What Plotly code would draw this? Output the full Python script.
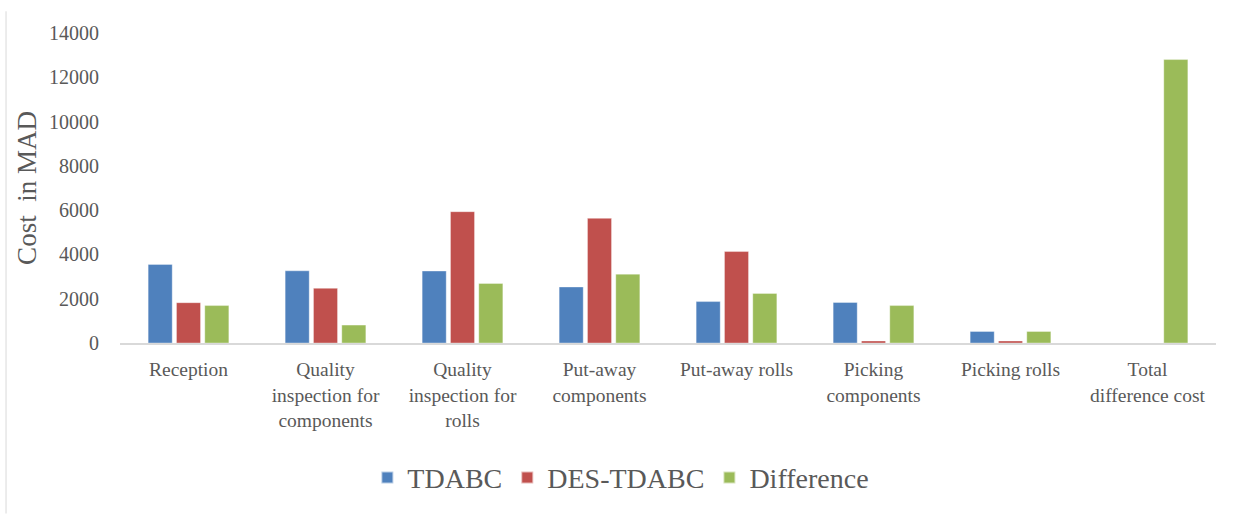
import plotly.graph_objects as go

categories = [
    "Reception",
    "Quality<br>inspection for<br>components",
    "Quality<br>inspection for<br>rolls",
    "Put-away<br>components",
    "Put-away rolls",
    "Picking<br>components",
    "Picking rolls",
    "Total<br>difference cost",
]
tdabc = [3550, 3260, 3250, 2530, 1870, 1830, 520, None]
des_tdabc = [1820, 2470, 5930, 5630, 4130, 90, 90, None]
difference = [1690, 810, 2690, 3110, 2240, 1690, 520, 12800]

series_names = ["TDABC", "DES-TDABC", "Difference"]
colors = ["#4F81BD", "#C0504D", "#9BBB59"]
y_ticks = [0, 2000, 4000, 6000, 8000, 10000, 12000, 14000]
y_tick_labels = ["0", "2000", "4000", "6000", "8000", "10000", "12000", "14000"]

FONT = "Liberation Serif"
GREY = "#595959"

fig = go.Figure()
for name, vals, col in zip(series_names, [tdabc, des_tdabc, difference], colors):
    fig.add_trace(go.Bar(
        name=name, x=categories, y=vals,
        marker=dict(color=col, line=dict(color="rgba(255,255,255,0.6)", width=0.6)),
    ))

fig.update_layout(
    width=1239, height=515,
    margin=dict(l=120, r=23, t=33, b=172),
    paper_bgcolor="white", plot_bgcolor="white",
    barmode="group", bargap=0.38, bargroupgap=0.15,
    font=dict(family=FONT, color=GREY, size=19),
    showlegend=True,
    legend=dict(
        orientation="h", x=0.457, xanchor="center", y=-0.435, yanchor="middle",
        font=dict(family=FONT, size=28, color=GREY),
        itemsizing="constant", traceorder="normal",
    ),
    xaxis=dict(
        showline=True, linecolor="#D9D9D9", linewidth=1.5,
        showgrid=False, ticks="", ticklabelstandoff=8,
        tickfont=dict(family=FONT, size=19.5, color=GREY),
        fixedrange=True,
    ),
    yaxis=dict(
        range=[0, 14000], tickvals=y_ticks, ticktext=y_tick_labels,
        showgrid=False, zeroline=False, showline=False, ticks="",
        ticklabelstandoff=20,
        tickfont=dict(family=FONT, size=20, color=GREY),
        title=dict(text="Cost  in MAD", font=dict(family=FONT, size=27, color=GREY), standoff=4),
    ),
)

fig.add_shape(type="line", xref="paper", yref="paper",
              x0=-0.104, x1=-0.104, y0=-0.55, y1=1.07,
              line=dict(color="#D9D9D9", width=1))

fig.write_html("out.html")
